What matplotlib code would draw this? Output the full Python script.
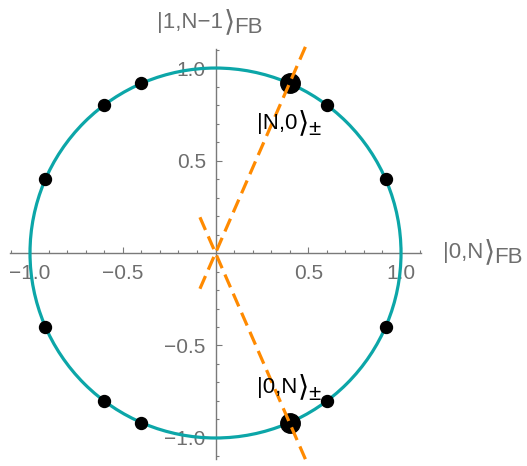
import matplotlib
matplotlib.use("Agg")
import matplotlib.pyplot as plt
import numpy as np
from matplotlib.patches import Circle
from matplotlib.ticker import FixedLocator, FuncFormatter

plt.rcParams['font.family'] = ['Liberation Sans', 'DejaVu Sans']
plt.rcParams['lines.scale_dashes'] = False

# ---- data ----
circle_radius = 1.0
small_x = [0.6, 0.92, 0.92, 0.6, -0.4, -0.6, -0.92, -0.92, -0.6, -0.4]
small_y = [0.8, 0.4, -0.4, -0.8, 0.92, 0.8, 0.4, -0.4, -0.8, -0.92]
big_x = [0.4, 0.4]
big_y = [0.92, -0.92]
line_t = [-0.21, 1.22]          # extent of dashed lines along each direction
major_ticks = [-1.0, -0.5, 0.5, 1.0]
minor_ticks = [-1.1, -0.9, -0.8, -0.7, -0.6, -0.4, -0.3, -0.2, -0.1,
               0.1, 0.2, 0.3, 0.4, 0.6, 0.7, 0.8, 0.9, 1.1]
xlabel_main, xlabel_sub = "|0,N", "FB"
ylabel_main, ylabel_sub = "|1,N\u22121", "FB"
top_label_main, bottom_label_main, pm_sub = "|N,0", "|0,N", "\u00b1"
BRACKET = "\u27e9"

TEAL = '#0ca6a8'
ORANGE = '#ff8a00'
GRAY = '#6e6e6e'
AXGRAY = '#7a7a7a'

W, H = 527, 466
fig = plt.figure(figsize=(W / 100, H / 100), dpi=100)
ax = fig.add_axes([0.01822, 0.01567, 0.7797, 0.8800])
ax.set_xlim(-1.11, 1.105)
ax.set_ylim(-1.112, 1.105)

for s in ['top', 'right']:
    ax.spines[s].set_visible(False)
ax.spines['left'].set_position(('data', 0))
ax.spines['bottom'].set_position(('data', 0))
for s in ['left', 'bottom']:
    ax.spines[s].set_color(AXGRAY)
    ax.spines[s].set_linewidth(1.0)
    ax.spines[s].set_zorder(0.5)

fmt = FuncFormatter(lambda v, p: f"{v:.1f}".replace('-', '\u2212'))
for axis in [ax.xaxis, ax.yaxis]:
    axis.set_major_locator(FixedLocator(major_ticks))
    axis.set_minor_locator(FixedLocator(minor_ticks))
    axis.set_major_formatter(fmt)
ax.tick_params(which='both', direction='in', color=AXGRAY, width=0.8)
ax.tick_params(which='major', length=4.5, labelsize=15, labelcolor=GRAY)
ax.tick_params(which='minor', length=2.5)
ax.tick_params(axis='x', which='major', pad=8)
ax.tick_params(axis='y', which='major', pad=7)

# circle
ax.add_patch(Circle((0, 0), circle_radius, fill=False, color=TEAL, lw=2.3, zorder=2))

# dots
ax.plot(small_x, small_y, 'o', color='black', ms=8.6, zorder=3, clip_on=False)
ax.plot(big_x, big_y, 'o', color='black', ms=14.0, zorder=3, clip_on=False)

# dashed lines through the origin and the big dots
for bx, by in zip(big_x, big_y):
    tx = [t * bx for t in line_t]
    ty = [t * by for t in line_t]
    ax.plot(tx, ty, color=ORANGE, lw=2.3, dashes=(10, 5), zorder=4, clip_on=False)

renderer = fig.canvas.get_renderer()

def label(x, y, main, sub, color, size=16, drop=5):
    base = H - y
    t = fig.text(x / W, base / H, main, color=color, fontsize=size,
                 ha='left', va='baseline')
    bb = t.get_window_extent(renderer)
    b = fig.text((bb.x1 + 0.5) / W, (base - 2) / H, BRACKET, color=color,
                 fontsize=size * 1.3, ha='left', va='baseline',
                 family=['DejaVu Sans'])
    bb2 = b.get_window_extent(renderer)
    fig.text((bb2.x1 - 1) / W, (base - drop) / H, sub, color=color, fontsize=size,
             ha='left', va='baseline')

label(157, 28, ylabel_main, ylabel_sub, GRAY, size=16)
label(443, 258, xlabel_main, xlabel_sub, GRAY, size=16)
label(257, 129, top_label_main, pm_sub, 'black', size=16, drop=6)
label(257, 393, bottom_label_main, pm_sub, 'black', size=16, drop=7)

fig.savefig('out.png', dpi=100)
